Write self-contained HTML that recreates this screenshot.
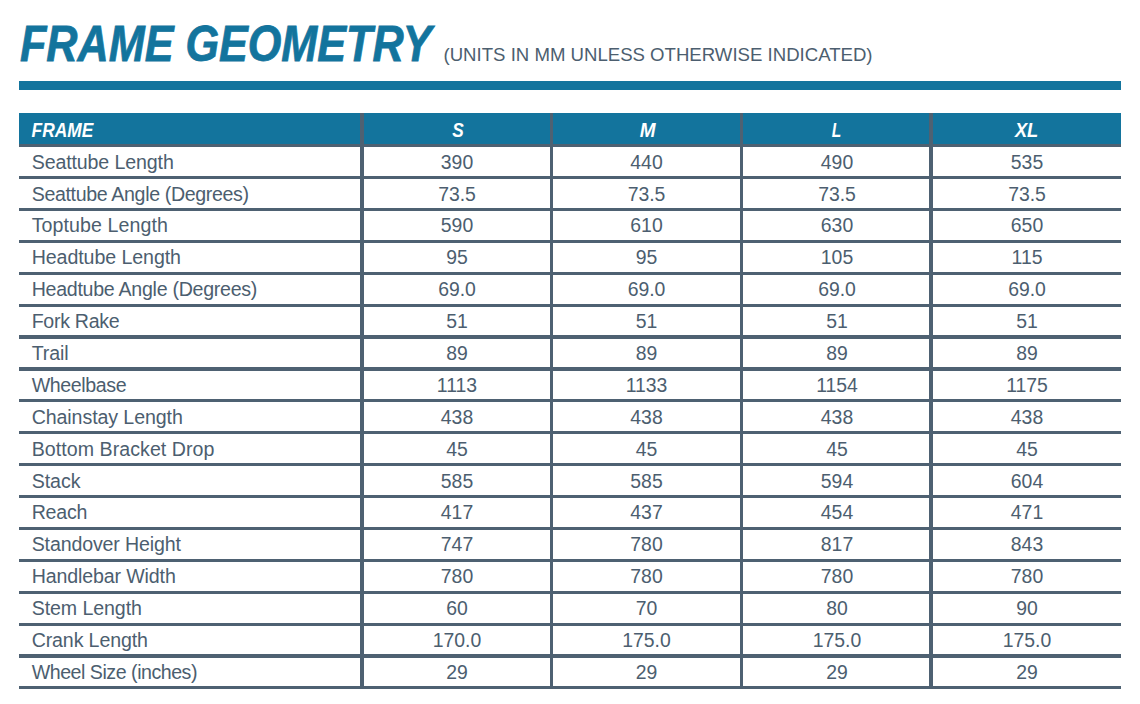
<!DOCTYPE html>
<html><head><meta charset="utf-8"><title>Frame Geometry</title>
<style>
html,body{margin:0;padding:0;background:#fff;}
body{width:1140px;height:704px;position:relative;overflow:hidden;font-family:"Liberation Sans",sans-serif;color:#4c5e6f;}
.abs{position:absolute;}
.t{position:absolute;white-space:nowrap;line-height:1;}
.ttl{font-weight:bold;font-style:italic;color:#13749d;font-size:53.3px;transform-origin:0 0;-webkit-text-stroke:1px #13749d;text-shadow:1.2px 0 0 #13749d,-1.2px 0 0 #13749d;}
.sub{font-size:18.6px;color:#4c5e6f;}
.hl{position:absolute;left:19px;width:1102px;height:3px;background:#4e6172;}
.vl{position:absolute;top:113px;height:576px;background:#4e6172;}
.lab{font-size:19.6px;left:31.7px;}
.num{font-size:19.4px;width:190px;text-align:center;}
.hd{font-weight:bold;font-style:italic;color:#fff;font-size:20.9px;transform-origin:0 0;-webkit-text-stroke:0.4px #fff;}
.hdc{font-weight:bold;font-style:italic;color:#fff;font-size:20.9px;width:190px;text-align:center;transform:scaleX(0.83);-webkit-text-stroke:0.4px #fff;}
</style></head><body>
<svg class="abs" style="left:0;top:0;z-index:2;" width="1140" height="150" viewBox="0 0 1140 150">
<text x="20" y="60.9" font-family="'Liberation Sans', sans-serif" font-weight="bold" font-style="italic" font-size="50.7" fill="#13749d" stroke="#13749d" stroke-width="0.8" textLength="411.6" lengthAdjust="spacingAndGlyphs">FRAME GEOMETRY</text>
<g fill="#fff" font-family="'Liberation Sans', sans-serif" font-weight="bold" font-style="italic" font-size="20">
<text x="31.6" y="137.1" textLength="61.7" lengthAdjust="spacingAndGlyphs">FRAME</text>
<text x="458" y="137.1" text-anchor="middle" textLength="11.5" lengthAdjust="spacingAndGlyphs">S</text>
<text x="647.6" y="137.1" text-anchor="middle" textLength="15.8" lengthAdjust="spacingAndGlyphs">M</text>
<text x="836.4" y="137.1" text-anchor="middle" textLength="9.5" lengthAdjust="spacingAndGlyphs">L</text>
<text x="1026.6" y="137.1" text-anchor="middle" textLength="23.4" lengthAdjust="spacingAndGlyphs">XL</text>
</g>
</svg>
<div class="t sub" id="sub" style="left:443.5px;top:46px;">(UNITS IN MM UNLESS OTHERWISE INDICATED)</div>
<div class="abs" style="left:19px;top:81px;width:1102px;height:9px;background:#13749d;"></div>
<div class="abs" style="left:19px;top:113px;width:1102px;height:31px;background:#13749d;"></div>
<div class="hl" style="top:144px;height:3px;"></div>
<div class="hl" style="top:176px;height:3px;"></div>
<div class="hl" style="top:208px;height:3px;"></div>
<div class="hl" style="top:240px;height:3px;"></div>
<div class="hl" style="top:272px;height:3px;"></div>
<div class="hl" style="top:304px;height:3px;"></div>
<div class="hl" style="top:335px;height:4px;"></div>
<div class="hl" style="top:367px;height:4px;"></div>
<div class="hl" style="top:399px;height:3px;"></div>
<div class="hl" style="top:431px;height:3px;"></div>
<div class="hl" style="top:463px;height:3px;"></div>
<div class="hl" style="top:495px;height:3px;"></div>
<div class="hl" style="top:527px;height:3px;"></div>
<div class="hl" style="top:559px;height:3px;"></div>
<div class="hl" style="top:591px;height:3px;"></div>
<div class="hl" style="top:623px;height:3px;"></div>
<div class="hl" style="top:654px;height:4px;"></div>
<div class="hl" style="top:686px;height:3px;"></div>
<div class="vl" style="left:360px;width:4px;"></div>
<div class="vl" style="left:550px;width:3px;"></div>
<div class="vl" style="left:740px;width:3px;"></div>
<div class="vl" style="left:929px;width:4px;"></div>
<div class="t lab" style="top:153.30px;letter-spacing:-0.123px;">Seattube Length</div>
<div class="t num" style="left:362px;top:153.30px;">390</div>
<div class="t num" style="left:551.5px;top:153.30px;">440</div>
<div class="t num" style="left:742px;top:153.30px;">490</div>
<div class="t num" style="left:932px;top:153.30px;">535</div>
<div class="t lab" style="top:185.30px;letter-spacing:-0.351px;">Seattube Angle (Degrees)</div>
<div class="t num" style="left:362px;top:185.30px;">73.5</div>
<div class="t num" style="left:551.5px;top:185.30px;">73.5</div>
<div class="t num" style="left:742px;top:185.30px;">73.5</div>
<div class="t num" style="left:932px;top:185.30px;">73.5</div>
<div class="t lab" style="top:216.30px;letter-spacing:0.086px;">Toptube Length</div>
<div class="t num" style="left:362px;top:216.30px;">590</div>
<div class="t num" style="left:551.5px;top:216.30px;">610</div>
<div class="t num" style="left:742px;top:216.30px;">630</div>
<div class="t num" style="left:932px;top:216.30px;">650</div>
<div class="t lab" style="top:248.30px;letter-spacing:-0.077px;">Headtube Length</div>
<div class="t num" style="left:362px;top:248.30px;">95</div>
<div class="t num" style="left:551.5px;top:248.30px;">95</div>
<div class="t num" style="left:742px;top:248.30px;">105</div>
<div class="t num" style="left:932px;top:248.30px;">115</div>
<div class="t lab" style="top:280.30px;letter-spacing:-0.277px;">Headtube Angle (Degrees)</div>
<div class="t num" style="left:362px;top:280.30px;">69.0</div>
<div class="t num" style="left:551.5px;top:280.30px;">69.0</div>
<div class="t num" style="left:742px;top:280.30px;">69.0</div>
<div class="t num" style="left:932px;top:280.30px;">69.0</div>
<div class="t lab" style="top:312.30px;letter-spacing:-0.305px;">Fork Rake</div>
<div class="t num" style="left:362px;top:312.30px;">51</div>
<div class="t num" style="left:551.5px;top:312.30px;">51</div>
<div class="t num" style="left:742px;top:312.30px;">51</div>
<div class="t num" style="left:932px;top:312.30px;">51</div>
<div class="t lab" style="top:344.30px;letter-spacing:-0.130px;">Trail</div>
<div class="t num" style="left:362px;top:344.30px;">89</div>
<div class="t num" style="left:551.5px;top:344.30px;">89</div>
<div class="t num" style="left:742px;top:344.30px;">89</div>
<div class="t num" style="left:932px;top:344.30px;">89</div>
<div class="t lab" style="top:376.30px;letter-spacing:-0.395px;">Wheelbase</div>
<div class="t num" style="left:362px;top:376.30px;">1113</div>
<div class="t num" style="left:551.5px;top:376.30px;">1133</div>
<div class="t num" style="left:742px;top:376.30px;">1154</div>
<div class="t num" style="left:932px;top:376.30px;">1175</div>
<div class="t lab" style="top:408.30px;letter-spacing:-0.091px;">Chainstay Length</div>
<div class="t num" style="left:362px;top:408.30px;">438</div>
<div class="t num" style="left:551.5px;top:408.30px;">438</div>
<div class="t num" style="left:742px;top:408.30px;">438</div>
<div class="t num" style="left:932px;top:408.30px;">438</div>
<div class="t lab" style="top:440.30px;letter-spacing:0.051px;">Bottom Bracket Drop</div>
<div class="t num" style="left:362px;top:440.30px;">45</div>
<div class="t num" style="left:551.5px;top:440.30px;">45</div>
<div class="t num" style="left:742px;top:440.30px;">45</div>
<div class="t num" style="left:932px;top:440.30px;">45</div>
<div class="t lab" style="top:472.30px;letter-spacing:-0.060px;">Stack</div>
<div class="t num" style="left:362px;top:472.30px;">585</div>
<div class="t num" style="left:551.5px;top:472.30px;">585</div>
<div class="t num" style="left:742px;top:472.30px;">594</div>
<div class="t num" style="left:932px;top:472.30px;">604</div>
<div class="t lab" style="top:503.30px;letter-spacing:-0.250px;">Reach</div>
<div class="t num" style="left:362px;top:503.30px;">417</div>
<div class="t num" style="left:551.5px;top:503.30px;">437</div>
<div class="t num" style="left:742px;top:503.30px;">454</div>
<div class="t num" style="left:932px;top:503.30px;">471</div>
<div class="t lab" style="top:535.30px;letter-spacing:-0.144px;">Standover Height</div>
<div class="t num" style="left:362px;top:535.30px;">747</div>
<div class="t num" style="left:551.5px;top:535.30px;">780</div>
<div class="t num" style="left:742px;top:535.30px;">817</div>
<div class="t num" style="left:932px;top:535.30px;">843</div>
<div class="t lab" style="top:567.30px;letter-spacing:-0.129px;">Handlebar Width</div>
<div class="t num" style="left:362px;top:567.30px;">780</div>
<div class="t num" style="left:551.5px;top:567.30px;">780</div>
<div class="t num" style="left:742px;top:567.30px;">780</div>
<div class="t num" style="left:932px;top:567.30px;">780</div>
<div class="t lab" style="top:599.30px;letter-spacing:-0.088px;">Stem Length</div>
<div class="t num" style="left:362px;top:599.30px;">60</div>
<div class="t num" style="left:551.5px;top:599.30px;">70</div>
<div class="t num" style="left:742px;top:599.30px;">80</div>
<div class="t num" style="left:932px;top:599.30px;">90</div>
<div class="t lab" style="top:631.30px;letter-spacing:-0.131px;">Crank Length</div>
<div class="t num" style="left:362px;top:631.30px;">170.0</div>
<div class="t num" style="left:551.5px;top:631.30px;">175.0</div>
<div class="t num" style="left:742px;top:631.30px;">175.0</div>
<div class="t num" style="left:932px;top:631.30px;">175.0</div>
<div class="t lab" style="top:663.30px;letter-spacing:-0.469px;">Wheel Size (inches)</div>
<div class="t num" style="left:362px;top:663.30px;">29</div>
<div class="t num" style="left:551.5px;top:663.30px;">29</div>
<div class="t num" style="left:742px;top:663.30px;">29</div>
<div class="t num" style="left:932px;top:663.30px;">29</div>
</body></html>
